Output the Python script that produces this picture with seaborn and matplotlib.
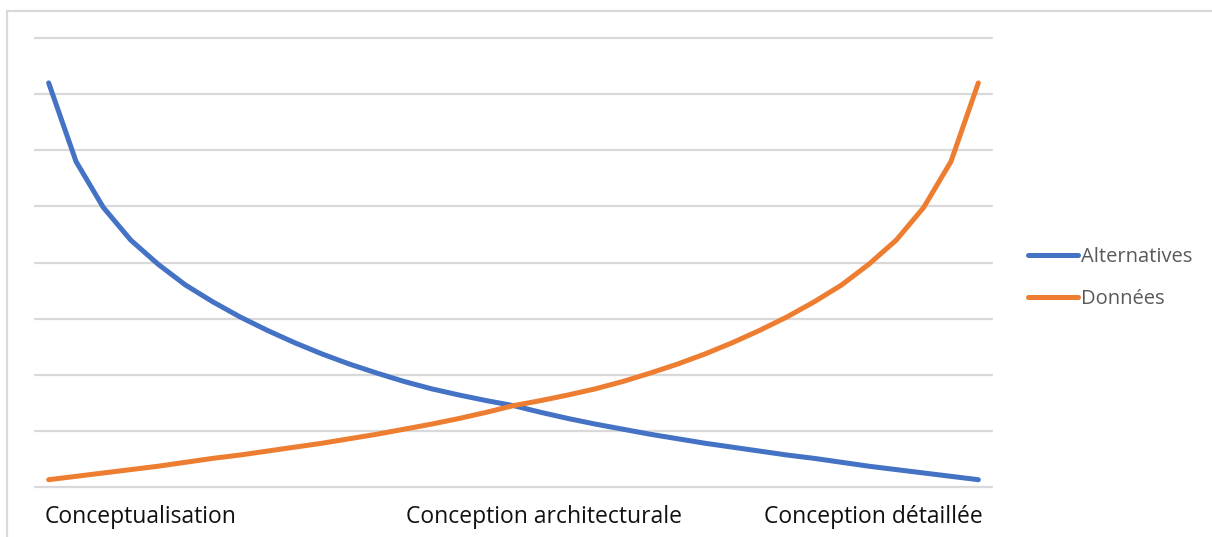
import matplotlib
matplotlib.use("Agg")
import matplotlib.pyplot as plt
from matplotlib.lines import Line2D
import matplotlib.transforms as mtransforms
import seaborn as sns
import pandas as pd

# ---- data ----
n_points = 35
tick_labels = {0: "Conceptualisation", 18: "Conception architecturale", 34: "Conception détaillée"}
alternatives = [7.20, 5.80, 4.98, 4.40, 3.97, 3.60, 3.30, 3.03, 2.79, 2.57, 2.37, 2.19,
                2.03, 1.88, 1.75, 1.64, 1.54, 1.45, 1.33, 1.22, 1.12, 1.03, 0.94, 0.86,
                0.78, 0.71, 0.64, 0.57, 0.51, 0.44, 0.37, 0.31, 0.25, 0.19, 0.13]
donnees = [0.13, 0.19, 0.25, 0.31, 0.37, 0.44, 0.51, 0.57, 0.64, 0.71, 0.78, 0.86,
           0.94, 1.03, 1.12, 1.22, 1.33, 1.45, 1.54, 1.64, 1.75, 1.88, 2.03, 2.19,
           2.37, 2.57, 2.79, 3.03, 3.30, 3.60, 3.97, 4.40, 4.98, 5.80, 7.20]
series_names = ["Alternatives", "Données"]
colors = ["#4472C4", "#ED7D31"]

df = pd.DataFrame({
    "x": list(range(n_points)) * 2,
    "value": alternatives + donnees,
    "serie": [series_names[0]] * n_points + [series_names[1]] * n_points,
})

sns.set_theme(style="white")
plt.rcParams["font.family"] = ["Open Sans", "DejaVu Sans"]

fig = plt.figure(figsize=(12.12, 5.37), dpi=100)
ax = fig.add_axes([35 / 1212, 50 / 537, 957 / 1212, 449 / 537])

sns.lineplot(data=df, x="x", y="value", hue="serie", palette=colors,
             linewidth=3.6, ax=ax, legend=False, sort=False)
for ln in ax.get_lines():
    ln.set_solid_capstyle("round")
    ln.set_solid_joinstyle("round")
    ln.set_zorder(3)

ax.set_xlim(-0.5, n_points - 0.5)
ax.set_ylim(0, 8)
ax.set_yticks(range(0, 9))
ax.set_yticklabels([])
ax.yaxis.grid(True, color="#d9d9d9", linewidth=1.6)
ax.xaxis.grid(False)
for g in ax.get_ygridlines():
    g.set_clip_on(False)
for s in ax.spines.values():
    s.set_visible(False)
ax.set_axisbelow(True)
ax.tick_params(axis="both", length=0)
ax.set_xlabel("")
ax.set_ylabel("")

pos = list(tick_labels.keys())
ax.set_xticks(pos)
ax.set_xticklabels([tick_labels[p] for p in pos], fontsize=16.5, color="#111111")
aligns = ["left", "center", "right"]
offsets = [-4, 3, 4]
ax.tick_params(axis="x", pad=13)
for lbl, ha, dx in zip(ax.get_xticklabels(), aligns, offsets):
    lbl.set_ha(ha)
    lbl.set_transform(lbl.get_transform() + mtransforms.ScaledTranslation(dx / 100, 0, fig.dpi_scale_trans))

handles = [Line2D([0], [0], color=c, linewidth=3.6, solid_capstyle="round") for c in colors]
fig.legend(handles, series_names, loc="center left", bbox_to_anchor=(1020 / 1212, 1 - 278 / 537),
           frameon=False, fontsize=14.5, labelcolor="#595959", handlelength=2.5,
           handletextpad=0.12, labelspacing=1.1, borderaxespad=0, borderpad=0.4)

# outer chart border (top and left only visible)
fig.add_artist(Line2D([7 / 1212, 1.0], [1 - 11 / 537, 1 - 11 / 537], color="#d9d9d9", linewidth=1.6))
fig.add_artist(Line2D([7 / 1212, 7 / 1212], [0.0, 1 - 11 / 537], color="#d9d9d9", linewidth=1.6))

fig.savefig("out.png", dpi=100, facecolor="white")
